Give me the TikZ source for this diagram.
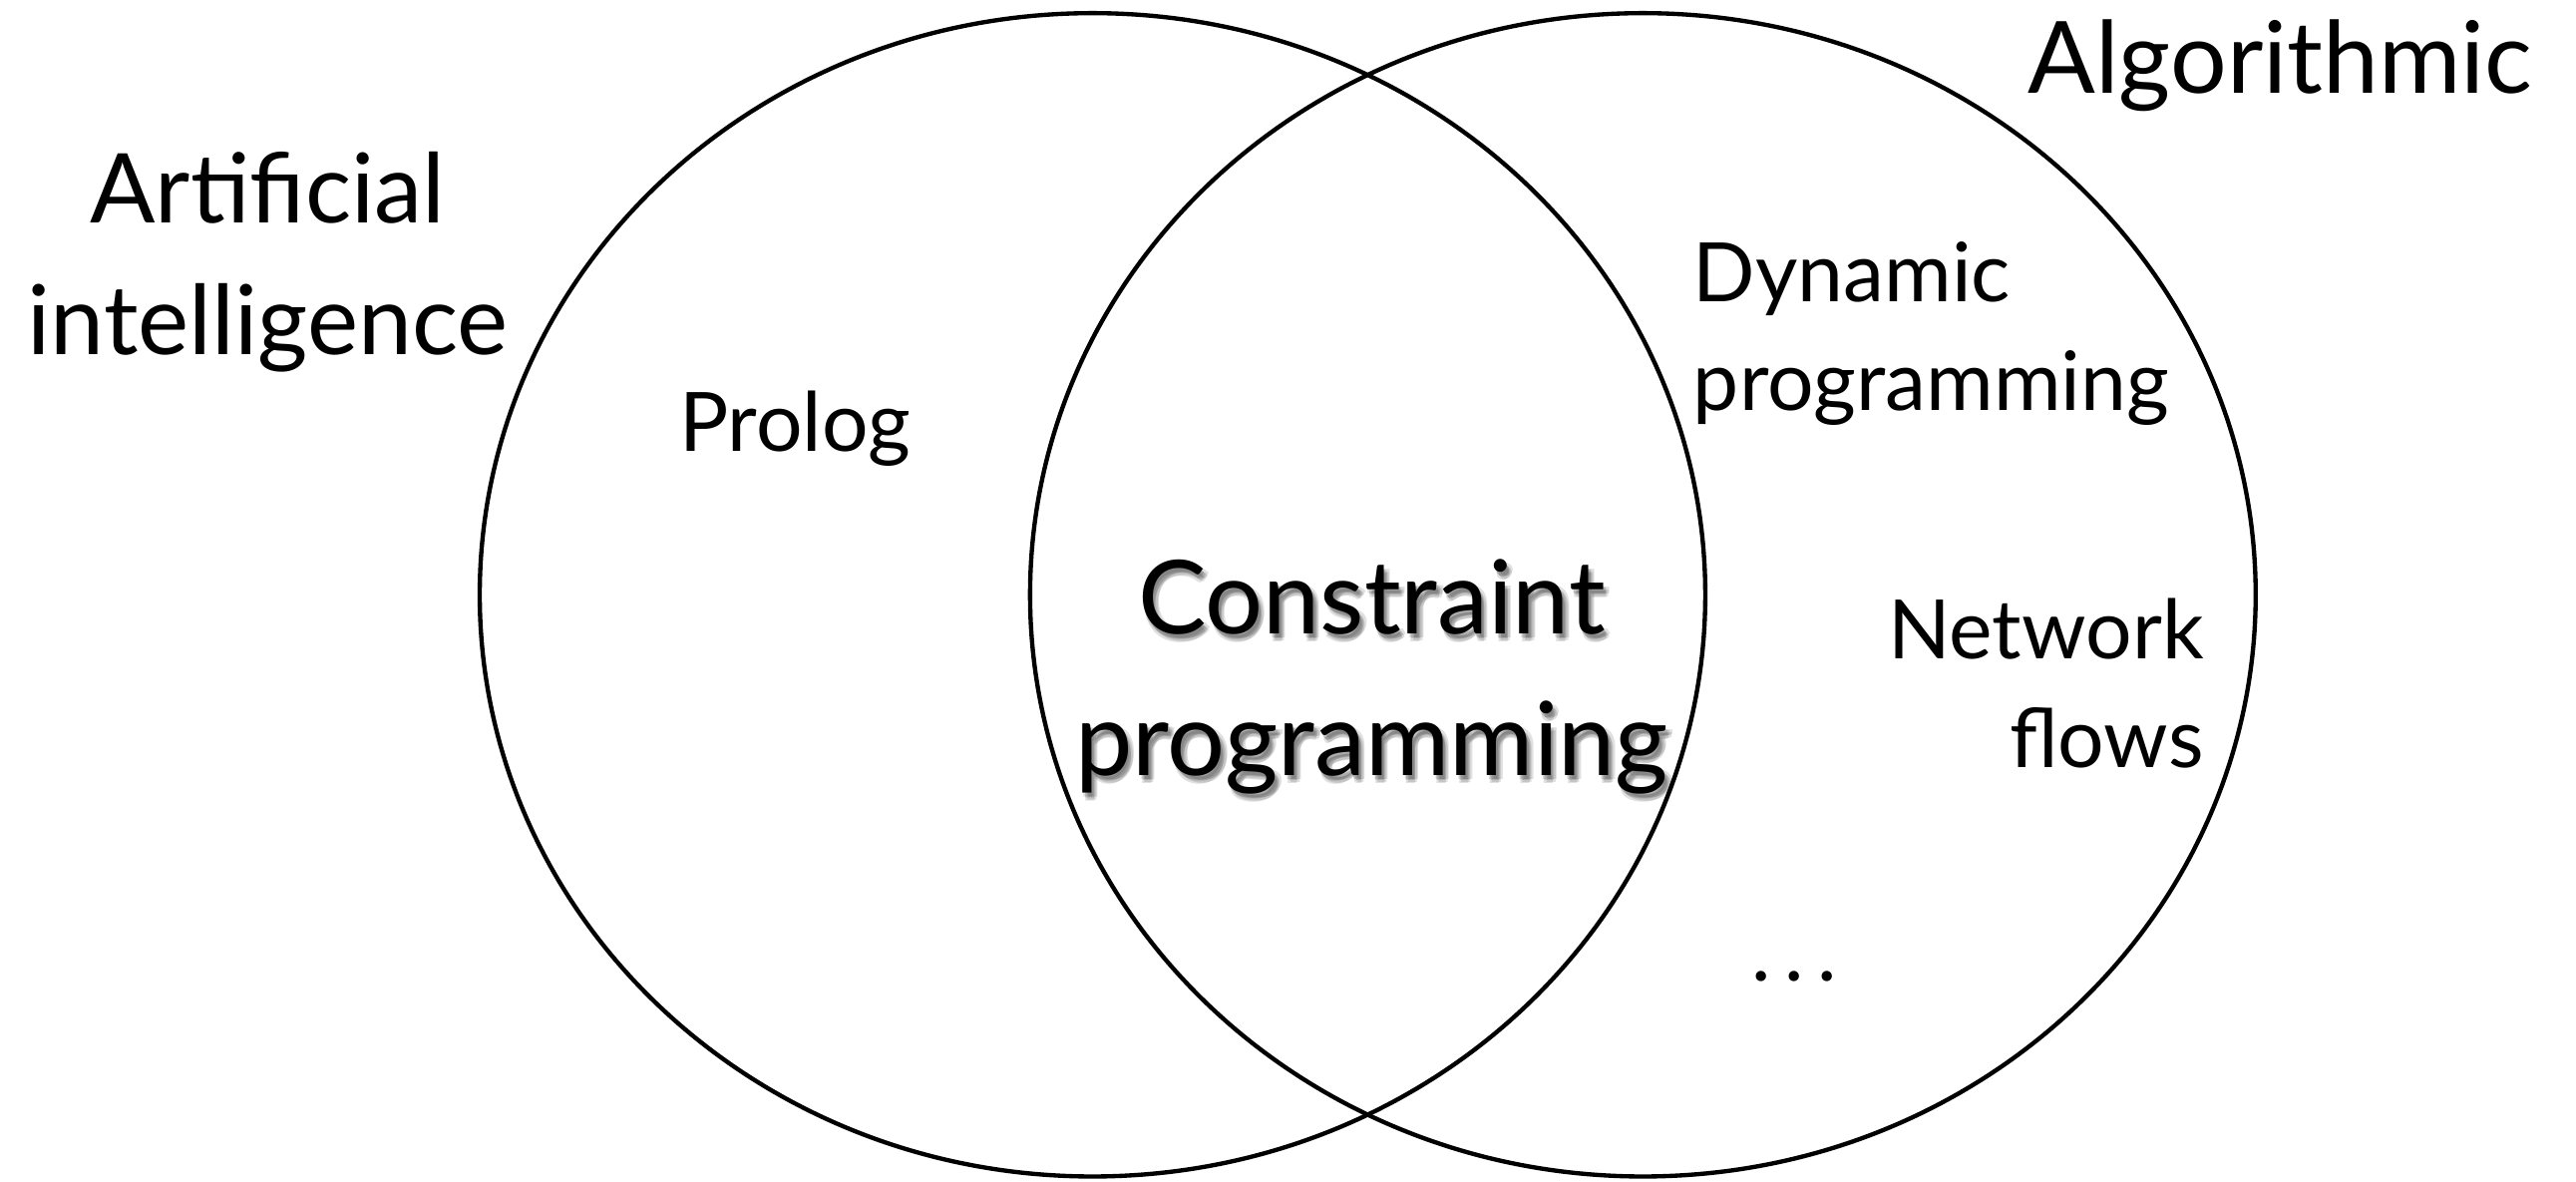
\documentclass[tikz,border=0pt]{standalone}
\usepackage{fontspec}
\setmainfont{Lato}
\usepackage{tikz}

\begin{document}
\begin{tikzpicture}[ring/.style={line width=0.75pt},
  field/.style={font=\fontsize{16.7}{22.8}\selectfont,align=center,inner sep=0pt},
  topic/.style={font=\fontsize{14.2}{18.8}\selectfont,inner sep=0pt},
  core/.style={font=\fontsize{17.7}{24.5}\selectfont,align=center,inner sep=0pt}]

  \useasboundingbox (0,0) rectangle (15.68,7.19);

  % the two sets
  \draw[ring] (6.65,3.57) ellipse [x radius=3.73,y radius=3.54];
  \draw[ring] (10.00,3.57) ellipse [x radius=3.73,y radius=3.54];

  \node[field,anchor=base] (ai) at (1.63,5.03) {Artificial\\intelligence};
  \node[field,anchor=base,font=\fontsize{17.3}{22.8}\selectfont] (algo) at (13.88,6.62) {Algorithmic};

  \node[topic,anchor=base] (prolog) at (4.84,4.44) {Prolog};
  \node[topic,anchor=base west,align=left] (dyn) at (10.30,4.69) {Dynamic\\programming};
  \node[topic,anchor=base east,align=right] (flows) at (13.42,2.52) {Network\\flows};
  \node[topic] (more) at (10.92,1.25) {.\,.\,.};

  %soft shadow under the intersection label
  \foreach \dx/\dy in {0.3/-0.6,0.6/-0.9,0.9/-1.2,0.5/-1.4,1.1/-0.7}
    \node[core,anchor=base,opacity=0.12,xshift=\dx pt,yshift=\dy pt] at (8.35,2.47) {Constraint\\programming};
  \node[core,anchor=base] (cp) at (8.35,2.47) {Constraint\\programming};
\end{tikzpicture}
\end{document}
